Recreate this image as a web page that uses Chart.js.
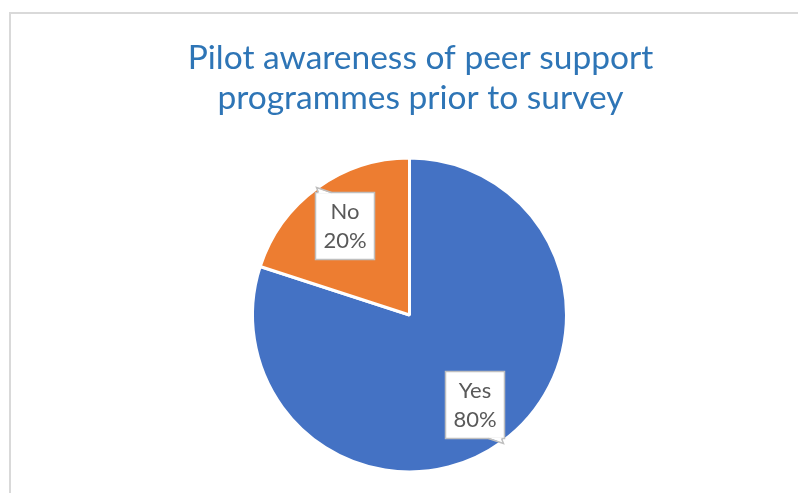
<!DOCTYPE html>
<html>
<head>
<meta charset="utf-8">
<script src="https://cdn.jsdelivr.net/npm/chart.js@4.4.0/dist/chart.umd.min.js"></script>
<style>
  html, body { margin: 0; padding: 0; background: #fff; }
</style>
</head>
<body>
<canvas id="myChart" width="798" height="493"></canvas>
<script>
const titleLines = ['Pilot awareness of peer support', 'programmes prior to survey'];
const categories = ['Yes', 'No'];
const values = [80, 20];
const sliceColors = ['#4472C4', '#ED7D31'];

// grey frame of the chart area (only left and top edges are visible)
const frame = {
  id: 'frame',
  beforeDraw(chart) {
    const ctx = chart.ctx;
    ctx.save();
    ctx.strokeStyle = '#d9d9d9';
    ctx.lineWidth = 2;
    ctx.strokeRect(10, 13, 1000, 1000);
    ctx.restore();
  }
};

// the title sits a bit right of the pie centre
const titleShift = {
  id: 'titleShift',
  afterLayout(chart) {
    chart.titleBlock.left += 11;
    chart.titleBlock.right += 11;
  }
};

// boxed data labels with a small tail, like a callout
const callouts = {
  id: 'callouts',
  afterDatasetsDraw(chart) {
    const ctx = chart.ctx;
    const meta = chart.getDatasetMeta(0);
    const data = chart.data.datasets[0].data;
    const total = data.reduce((a, b) => a + b, 0);

    ctx.save();
    ctx.font = '22px Lato';
    ctx.textAlign = 'center';
    ctx.textBaseline = 'middle';

    meta.data.forEach((arc, i) => {
      const p = arc.getProps(['x', 'y', 'startAngle', 'endAngle', 'outerRadius'], true);
      const mid = (p.startAngle + p.endAngle) / 2;
      const cx = p.x + Math.cos(mid) * p.outerRadius * 0.705;
      const cy = p.y + Math.sin(mid) * p.outerRadius * 0.705;
      const lines = [chart.data.labels[i], Math.round(data[i] / total * 100) + '%'];

      const w = Math.round(Math.max(...lines.map(t => ctx.measureText(t).width)) + 16);
      const h = 67;
      const left = Math.round(cx - w / 2) + 0.5;
      const top = Math.round(cy - h / 2) + 0.5;

      // tail points away from the centre
      const sx = Math.cos(mid) < 0 ? -1 : 1;
      const sy = Math.sin(mid) < 0 ? -1 : 1;
      const cornerX = sx < 0 ? left : left + w;
      const cornerY = sy < 0 ? top : top + h;

      ctx.fillStyle = '#fff';
      ctx.fillRect(left, top, w, h);
      ctx.strokeStyle = '#bfbfbf';
      ctx.lineWidth = 1.5;
      ctx.strokeRect(left, top, w, h);

      const tipX = cornerX - sx * 1;
      const tipY = cornerY + sy * 5;
      ctx.beginPath();
      ctx.moveTo(cornerX - sx * 3, cornerY - sy * 1);
      ctx.lineTo(tipX, tipY);
      ctx.lineTo(cornerX - sx * 16, cornerY - sy * 1);
      ctx.closePath();
      ctx.fill();
      ctx.beginPath();
      ctx.moveTo(cornerX - sx * 3, cornerY);
      ctx.lineTo(tipX, tipY);
      ctx.lineTo(cornerX - sx * 16, cornerY);
      ctx.stroke();

      ctx.fillStyle = '#595959';
      ctx.fillText(lines[0], left + w / 2, top + h / 2 - 14.5);
      ctx.fillText(lines[1], left + w / 2, top + h / 2 + 14.5);
    });
    ctx.restore();
  }
};

const ctx = document.getElementById('myChart').getContext('2d');
const myChart = new Chart(ctx, {
  type: 'pie',
  data: {
    labels: categories,
    datasets: [{
      data: values,
      backgroundColor: sliceColors,
      borderColor: '#ffffff',
      borderWidth: 3
    }]
  },
  options: {
    responsive: false,
    animation: false,
    layout: {
      padding: { left: 21, right: 0, top: 0, bottom: 19.5 }
    },
    plugins: {
      legend: { display: false },
      tooltip: { enabled: false },
      title: {
        display: true,
        text: titleLines,
        color: '#2E75B6',
        font: { family: 'Lato', size: 33.5, weight: 'normal', lineHeight: 40 / 33.5 },
        padding: { top: 38, bottom: 38.5 }
      }
    }
  },
  plugins: [frame, titleShift, callouts]
});
</script>
</body>
</html>
